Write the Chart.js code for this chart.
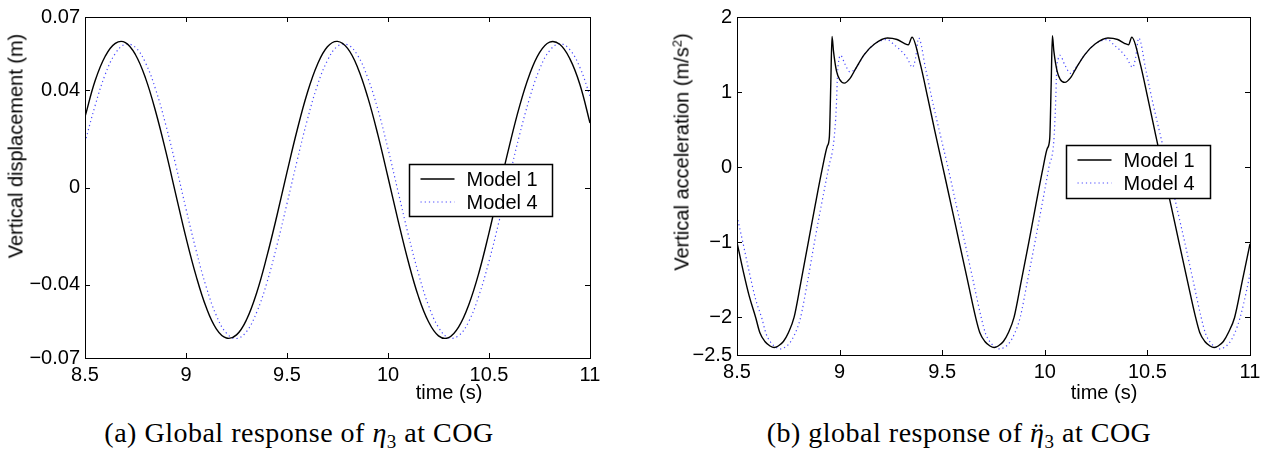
<!DOCTYPE html>
<html>
<head>
<meta charset="utf-8">
<script src="https://cdn.jsdelivr.net/npm/chart.js@4.4.1/dist/chart.umd.min.js"></script>
<style>
    html, body { margin: 0; padding: 0; background: #fff; }
    body { width: 1288px; height: 452px; position: relative; overflow: hidden; font-family: "Liberation Sans", Arial, sans-serif; }
    canvas { position: absolute; top: 0; }
    .lbl { position: absolute; font-size: 20px; color: #000; white-space: nowrap; transform: translate(-50%, -50%); }
    .ylbl { font-size: 20px; transform: translate(-50%, -50%) rotate(-90deg); }
    .ylbl sup { font-size: 13px; vertical-align: 7px; line-height: 0; }
    .cap { position: absolute; font-family: "Liberation Serif", "DejaVu Serif", serif; font-size: 28px; letter-spacing: 0.5px; color: #000; white-space: nowrap; transform: translate(-50%, -50%); }
    .cap sub { font-size: 19px; vertical-align: -6px; line-height: 0; }
    .dd { position: relative; }
    .dots { position: absolute; left: 0.13em; top: 0; font-style: normal; }
</style>
</head>
<body>
<canvas id="chartDisp" width="620" height="400" style="left:0px"></canvas>
<canvas id="chartAcc" width="620" height="400" style="left:660px"></canvas>

<div class="lbl ylbl" style="left:16px; top:146px">Vertical displacement (m)</div>
<div class="lbl" style="left:449px; top:392px">time (s)</div>
<div class="cap" style="left:299px; top:433px">(a) Global response of <i>η</i><sub>3</sub> at COG</div>

<div class="lbl ylbl" style="left:682px; top:152px">Vertical acceleration (m/s<sup>2</sup>)</div>
<div class="lbl" style="left:1104px; top:392px">time (s)</div>
<div class="cap" style="left:959px; top:433px">(b) global response of <span class="dd"><i>η</i><span class="dots">¨</span></span><sub>3</sub> at COG</div>

<script>
// tick values
const xTicks = [8.5, 9, 9.5, 10, 10.5, 11];
const dispTicks = [-0.07, -0.04, 0, 0.04, 0.07];
const accTicks = [-2.5, -2, -1, 0, 1, 2];

// (a) vertical displacement, sampled every 0.05 s
const dispTime = [8.50, 8.55, 8.60, 8.65, 8.70, 8.75, 8.80, 8.85, 8.90, 8.95,
    9.00, 9.05, 9.10, 9.15, 9.20, 9.25, 9.30, 9.35, 9.40, 9.45,
    9.50, 9.55, 9.60, 9.65, 9.70, 9.75, 9.80, 9.85, 9.90, 9.95,
    10.00, 10.05, 10.10, 10.15, 10.20, 10.25, 10.30, 10.35, 10.40, 10.45,
    10.50, 10.55, 10.60, 10.65, 10.70, 10.75, 10.80, 10.85, 10.90, 10.95, 11.00];
const dispModel1 = [0.0290, 0.0438, 0.0539, 0.0592, 0.0595, 0.0545, 0.0448, 0.0311, 0.0148, -0.0030,
    -0.0206, -0.0363, -0.0492, -0.0580, -0.0618, -0.0605, -0.0542, -0.0432, -0.0284, -0.0116,
    0.0063, 0.0235, 0.0387, 0.0504, 0.0578, 0.0600, 0.0571, 0.0492, 0.0370, 0.0216,
    0.0042, -0.0136, -0.0303, -0.0446, -0.0550, -0.0609, -0.0616, -0.0572, -0.0481, -0.0350,
    -0.0186, -0.0008, 0.0168, 0.0330, 0.0462, 0.0554, 0.0597, 0.0588, 0.0529, 0.0423, 0.0265];
const dispModel4 = [0.0185, 0.0336, 0.0464, 0.0550, 0.0588, 0.0575, 0.0511, 0.0402, 0.0257, 0.0090,
    -0.0088, -0.0258, -0.0408, -0.0525, -0.0598, -0.0620, -0.0591, -0.0512, -0.0392, -0.0238,
    -0.0066, 0.0110, 0.0276, 0.0418, 0.0521, 0.0580, 0.0586, 0.0542, 0.0450, 0.0320,
    0.0159, -0.0017, -0.0192, -0.0351, -0.0483, -0.0574, -0.0617, -0.0608, -0.0550, -0.0444,
    -0.0303, -0.0138, 0.0040, 0.0212, 0.0364, 0.0485, 0.0562, 0.0590, 0.0566, 0.0493, 0.0376];

// (b) vertical acceleration
const accTime1 = [8.500, 8.530, 8.560, 8.591, 8.611, 8.636, 8.661, 8.681, 8.701, 8.726,
    8.751, 8.778, 8.810, 8.846, 8.880, 8.917, 8.940, 8.950, 8.957, 8.963,
    8.970, 8.985, 9.000, 9.023, 9.050, 9.080, 9.120, 9.170, 9.233, 9.280,
    9.315, 9.335, 9.353, 9.392, 9.430, 9.465, 9.503, 9.545, 9.583, 9.623,
    9.663, 9.683, 9.708, 9.733, 9.753, 9.773, 9.798, 9.823, 9.850, 9.885,
    9.922, 9.955, 9.992, 10.012, 10.024, 10.031, 10.037, 10.044, 10.060, 10.075,
    10.098, 10.125, 10.155, 10.195, 10.245, 10.308, 10.355, 10.388, 10.408, 10.424,
    10.464, 10.502, 10.537, 10.574, 10.616, 10.654, 10.694, 10.735, 10.755, 10.780,
    10.805, 10.825, 10.845, 10.870, 10.895, 10.925, 10.962, 11.000];
const accModel1 = [-1.00, -1.38, -1.72, -2.00, -2.20, -2.32, -2.38, -2.40, -2.38, -2.32,
    -2.20, -2.00, -1.55, -1.02, -0.52, 0.00, 0.28, 0.40, 1.10, 1.74,
    1.55, 1.28, 1.17, 1.12, 1.18, 1.32, 1.50, 1.64, 1.72, 1.70,
    1.65, 1.63, 1.73, 1.39, 0.92, 0.47, 0.00, -0.52, -1.00, -1.50,
    -2.00, -2.20, -2.32, -2.38, -2.40, -2.38, -2.32, -2.20, -2.00, -1.52,
    -1.00, -0.52, 0.00, 0.25, 0.38, 1.10, 1.75, 1.55, 1.28, 1.17,
    1.13, 1.19, 1.33, 1.50, 1.64, 1.72, 1.70, 1.65, 1.63, 1.73,
    1.39, 0.92, 0.47, 0.00, -0.52, -1.00, -1.50, -2.00, -2.20, -2.32,
    -2.38, -2.40, -2.38, -2.32, -2.20, -2.00, -1.52, -1.02];
const accTime4 = [8.500, 8.530, 8.560, 8.590, 8.622, 8.642, 8.667, 8.692, 8.712, 8.732,
    8.757, 8.782, 8.808, 8.842, 8.876, 8.910, 8.947, 8.972, 8.984, 8.990,
    8.996, 9.005, 9.025, 9.050, 9.080, 9.120, 9.170, 9.230, 9.270, 9.300,
    9.330, 9.355, 9.370, 9.385, 9.420, 9.455, 9.490, 9.528, 9.570, 9.610,
    9.650, 9.690, 9.712, 9.737, 9.762, 9.782, 9.802, 9.827, 9.852, 9.880,
    9.915, 9.952, 9.985, 10.020, 10.044, 10.052, 10.058, 10.065, 10.074, 10.098,
    10.125, 10.155, 10.195, 10.245, 10.305, 10.340, 10.370, 10.400, 10.428, 10.442,
    10.458, 10.492, 10.527, 10.562, 10.600, 10.642, 10.682, 10.722, 10.762, 10.784,
    10.809, 10.834, 10.854, 10.874, 10.899, 10.924, 10.952, 10.985, 11.000];
const accModel4 = [-0.65, -1.02, -1.40, -1.75, -2.02, -2.22, -2.34, -2.40, -2.42, -2.40,
    -2.34, -2.22, -2.02, -1.55, -1.02, -0.52, 0.00, 0.35, 0.80, 1.25,
    1.42, 1.49, 1.38, 1.27, 1.32, 1.50, 1.64, 1.70, 1.62, 1.55,
    1.45, 1.33, 1.45, 1.72, 1.30, 0.85, 0.44, 0.00, -0.52, -1.00,
    -1.50, -2.00, -2.22, -2.34, -2.40, -2.42, -2.40, -2.34, -2.22, -2.00,
    -1.52, -1.00, -0.52, 0.00, 0.35, 0.80, 1.30, 1.44, 1.49, 1.36,
    1.25, 1.34, 1.50, 1.64, 1.70, 1.62, 1.55, 1.45, 1.33, 1.45,
    1.72, 1.30, 0.85, 0.44, 0.00, -0.52, -1.00, -1.50, -2.00, -2.22,
    -2.34, -2.40, -2.42, -2.40, -2.34, -2.22, -2.00, -1.62, -1.42];

const FONT = '"Liberation Sans", Arial, sans-serif';

function fmt(v) {
    return v < 0 ? '\u2212' + Math.abs(v) : String(v);
}

function points(xs, ys) {
    return xs.map((x, i) => ({ x: x, y: ys[i] }));
}

// box with inward ticks on all four sides, like matlab axes
const matlabFrame = {
    id: 'matlabFrame',
    afterDatasetsDraw(chart) {
        const { ctx, chartArea: a, scales: { x, y } } = chart;
        const len = 5;
        ctx.save();
        ctx.strokeStyle = '#000';
        ctx.lineWidth = 1;
        ctx.beginPath();
        x.ticks.forEach(t => {
            const px = Math.round(x.getPixelForValue(t.value)) + 0.5;
            ctx.moveTo(px, a.bottom); ctx.lineTo(px, a.bottom - len);
            ctx.moveTo(px, a.top); ctx.lineTo(px, a.top + len);
        });
        y.ticks.forEach(t => {
            const py = Math.round(y.getPixelForValue(t.value)) + 0.5;
            ctx.moveTo(a.left, py); ctx.lineTo(a.left + len, py);
            ctx.moveTo(a.right, py); ctx.lineTo(a.right - len, py);
        });
        ctx.stroke();
        ctx.strokeRect(Math.round(a.left) + 0.5, Math.round(a.top) + 0.5,
            Math.round(a.right - a.left), Math.round(a.bottom - a.top));
        ctx.restore();
    }
};

// legend drawn as a white box inside the plot
const boxLegend = {
    id: 'boxLegend',
    afterDraw(chart, args, opts) {
        const { ctx, chartArea: a } = chart;
        const x0 = Math.round(a.left + opts.left) + 0.5;
        const y0 = Math.round(a.top + opts.top) + 0.5;
        ctx.save();
        ctx.fillStyle = '#fff';
        ctx.fillRect(x0, y0, opts.width, opts.height);
        ctx.lineWidth = 1.5;
        ctx.strokeStyle = '#000';
        ctx.strokeRect(x0, y0, opts.width, opts.height);
        chart.data.datasets.forEach((ds, i) => {
            const yy = Math.round(y0 + 14 + i * 23.5);
            ctx.beginPath();
            ctx.setLineDash(ds.borderDash || []);
            ctx.strokeStyle = ds.borderColor;
            ctx.lineWidth = ds.borderWidth;
            ctx.moveTo(x0 + 11, yy);
            ctx.lineTo(x0 + 45, yy);
            ctx.stroke();
            ctx.setLineDash([]);
            ctx.fillStyle = '#000';
            ctx.font = '20px ' + FONT;
            ctx.textBaseline = 'middle';
            ctx.fillText(ds.label, x0 + 57, yy + 1);
        });
        ctx.restore();
    }
};

function makeChart(id, set1, set4, yMin, yMax, yTicks, axisW, axisH, padTop, tension, legend) {
    const ctx = document.getElementById(id).getContext('2d');
    const mode = tension ? 'default' : 'monotone';
    return new Chart(ctx, {
        type: 'line',
        data: {
            datasets: [{
                label: 'Model 1',
                data: set1,
                borderColor: '#000',
                borderWidth: 1.4,
                pointRadius: 0,
                tension: tension,
                cubicInterpolationMode: mode,
            }, {
                label: 'Model 4',
                data: set4,
                borderColor: 'rgb(70,70,255)',
                borderWidth: 1.2,
                borderDash: [1.2, 3],
                pointRadius: 0,
                tension: tension,
                cubicInterpolationMode: mode,
            }],
        },
        options: {
            responsive: false,
            animation: false,
            layout: { padding: { left: 0, top: padTop, right: 30, bottom: 0 } },
            plugins: {
                legend: { display: false },
                tooltip: { enabled: false },
                boxLegend: legend,
            },
            scales: {
                x: {
                    type: 'linear',
                    min: 8.5,
                    max: 11,
                    afterBuildTicks: (s) => { s.ticks = xTicks.map(v => ({ value: v })); },
                    afterFit: (s) => { s.height = axisH; },
                    grid: { display: false, drawTicks: false },
                    border: { display: false },
                    ticks: {
                        callback: (v) => fmt(v),
                        color: '#000',
                        font: { family: FONT, size: 20 },
                        padding: 5,
                        maxRotation: 0,
                        autoSkip: false,
                    },
                },
                y: {
                    type: 'linear',
                    min: yMin,
                    max: yMax,
                    afterBuildTicks: (s) => { s.ticks = yTicks.map(v => ({ value: v })); },
                    afterFit: (s) => { s.width = axisW; },
                    grid: { display: false, drawTicks: false },
                    border: { display: false },
                    ticks: {
                        callback: (v) => fmt(v),
                        color: '#000',
                        font: { family: FONT, size: 20 },
                        padding: 5,
                        autoSkip: false,
                    },
                },
            },
        },
        plugins: [matlabFrame, boxLegend],
    });
}

makeChart('chartDisp', points(dispTime, dispModel1), points(dispTime, dispModel4),
    -0.07, 0.07, dispTicks, 85, 42, 17, 0.4,
    { left: 324, top: 147, width: 143, height: 52 });

makeChart('chartAcc', points(accTime1, accModel1), points(accTime4, accModel4),
    -2.5, 2, accTicks, 77, 45, 10, 0,
    { left: 329, top: 128, width: 144, height: 53 });
</script>
</body>
</html>
